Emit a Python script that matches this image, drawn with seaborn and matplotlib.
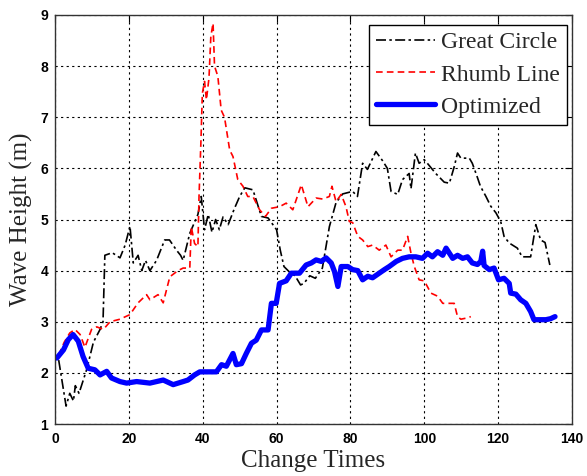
import matplotlib
matplotlib.use("Agg")
import matplotlib.pyplot as plt
import seaborn as sns
import pandas as pd

# ---------------- data ----------------
gc_x = [1, 3, 4, 5, 5.5, 6.5, 8.6, 10.4, 12.2, 13, 13.5, 15.5, 17.6, 19, 20.3, 21.2, 22.5, 23.5, 24.5, 25.7,
        27.5, 29.7, 31, 32.9, 34, 34.7, 36.5, 38.7, 39.6, 40.5, 41.5, 42.5, 43.5, 44.5, 45.5, 46.9, 48.5, 50,
        51.4, 53.6, 55.9, 57.7, 60, 61, 62, 63.8, 65, 66.5, 67.4, 69, 70.5, 72.4, 74.3, 76.1, 77.9, 80.6,
        81.9, 83.3, 84.6, 86.9, 88.7, 90, 91, 92.8, 94.1, 95.9, 96.4, 97.6, 98.6, 100, 101.4, 103.1, 105.4,
        106.8, 108.1, 109, 109.9, 112.2, 113, 114.3, 115.2, 116.7, 118, 119.4, 120.7, 121.6, 123, 125.2,
        126.5, 128.8, 130.2, 131.5, 132.7, 134]
gc_y = [2.25, 1.35, 1.6, 1.45, 1.75, 1.6, 2.07, 2.6, 2.85, 3.0, 4.3, 4.35, 4.25, 4.5, 4.87, 4.15, 4.3, 4.0, 4.2, 4.0,
        4.2, 4.6, 4.6, 4.4, 4.3, 4.2, 4.73, 5.1, 5.45, 4.8, 5.1, 4.75, 5.0, 4.8, 5.05, 4.9, 5.2, 5.45,
        5.62, 5.58, 5.06, 5.03, 4.8, 4.4, 4.08, 3.95, 3.9, 3.72, 3.75, 3.9, 3.85, 4.05, 4.86, 5.33, 5.5, 5.55,
        5.45, 6.1, 5.98, 6.33, 6.15, 6.0, 5.55, 5.49, 5.78, 5.9, 5.6, 6.3, 6.1, 6.17, 6.05, 5.9, 5.73,
        5.71, 6.03, 6.3, 6.2, 6.2, 6.1, 5.84, 5.65, 5.45, 5.26, 5.13, 4.96, 4.67, 4.54, 4.44,
        4.27, 4.27, 4.9, 4.6, 4.55, 4.11]

rl_x = [1, 2.5, 4, 5.4, 6.8, 8.1, 9.9, 11.3, 13.1, 14.9, 17.6, 20.3, 22.5, 24.8, 25.7, 27.9, 29.3, 31.1, 33.3,
        34.7, 36.5, 36.9, 37.8, 38.7, 39, 39.5, 39.9, 40.5, 41, 41.7, 42.2, 42.8, 43.2, 44.1, 45, 45.9, 47.3,
        48.2, 49.5, 50.9, 52.2, 53.6, 55.4, 57, 58.6, 60.8, 62.6, 64.4, 66.7, 68.5, 69.8, 70.7, 72.5, 74.3,
        75, 76.1, 77.5, 78.8, 79.7, 80.6, 82, 83.3, 84.7, 86, 87.8, 89.6, 91, 92.8, 94.1, 95.5, 96.4, 97.3,
        98.6, 100, 101.8, 103.6, 105, 106.8, 108.1, 109, 109.9, 111.3, 112.6]
rl_y = [2.35, 2.6, 2.78, 2.85, 2.75, 2.5, 2.85, 2.9, 2.85, 3.0, 3.05, 3.14, 3.37, 3.53, 3.43, 3.53, 3.37, 3.88, 4.0,
        4.05, 4.05, 4.86, 4.53, 4.47, 5.45, 6.49, 7.47, 7.7, 7.34, 7.77, 8.58, 8.84, 8.0, 7.8, 7.14, 7.0, 6.36,
        6.23, 5.78, 5.65, 5.45, 5.45, 5.19, 5.06, 5.22, 5.25, 5.32, 5.19, 5.68, 5.25, 5.35, 5.42, 5.4, 5.45,
        5.65, 5.35, 5.49, 5.25, 4.96, 4.94, 4.67, 4.6, 4.47, 4.5, 4.4, 4.5, 4.27, 4.4, 4.4, 4.67, 4.34, 4.08,
        3.82, 3.8, 3.56, 3.5, 3.36, 3.36, 3.36, 3.1, 3.05, 3.07, 3.1]

op_x = [0.5, 2.3, 3.6, 4.9, 6.3, 7.6, 9, 10.8, 12.2, 14, 15.3, 17.6, 19.4, 22.1, 25.7, 29.3, 32, 34.7, 36, 37.8,
        39.2, 41, 43.7, 45.1, 46.4, 48.2, 49.1, 50.5, 51.8, 53.2, 54.5, 55.9, 57.7, 58.6, 59.9, 60.8, 62.6,
        64, 66.2, 68, 69.4, 70.7, 72.1, 73.4, 74.8, 75.7, 76.6, 77.5, 79.3, 80.6, 82, 83.3, 84.7, 86, 87.8,
        89.2, 90.5, 92.4, 94.1, 95.9, 97.7, 99.5, 100.9, 102.2, 103.6, 105, 105.9, 107.7, 109, 110.4, 111.7,
        113, 114.4, 115.3, 115.8, 116.2, 117.6, 118.9, 120.1, 121.6, 123, 123.4, 124.8, 126.1, 127.5, 128.8,
        129.7, 131.1, 132.9, 134.2, 135.4]
op_y = [2.29, 2.45, 2.65, 2.75, 2.62, 2.32, 2.09, 2.06, 1.96, 2.03, 1.9, 1.83, 1.8, 1.83, 1.8, 1.86, 1.77, 1.83, 1.86, 1.96,
        2.02, 2.02, 2.02, 2.16, 2.13, 2.38, 2.16, 2.18, 2.38, 2.58, 2.64, 2.84, 2.84, 3.36, 3.36, 3.75, 3.8,
        3.95, 3.95, 4.11, 4.15, 4.21, 4.18, 4.25, 4.15, 3.98, 3.69, 4.08, 4.08, 4.02, 4.0, 3.82, 3.89, 3.86, 3.95,
        4.02, 4.08, 4.18, 4.24, 4.27, 4.27, 4.24, 4.34, 4.27, 4.37, 4.3, 4.44, 4.24, 4.3, 4.24, 4.27,
        4.15, 4.12, 4.18, 4.38, 4.1, 4.02, 4.05, 3.82, 3.85, 3.75, 3.56, 3.54, 3.43, 3.36, 3.2,
        3.04, 3.04, 3.04, 3.06, 3.1]

series_names = ["Great Circle", "Rhumb Line", "Optimized"]
x_ticks = [0, 20, 40, 60, 80, 100, 120, 140]
y_ticks = [1, 2, 3, 4, 5, 6, 7, 8, 9]

assert len(gc_x) == len(gc_y), (len(gc_x), len(gc_y))
assert len(rl_x) == len(rl_y), (len(rl_x), len(rl_y))
assert len(op_x) == len(op_y), (len(op_x), len(op_y))

# ---------------- plot ----------------
sns.set_style("white")
plt.rcParams["font.family"] = ["Liberation Sans", "DejaVu Sans"]

fig = plt.figure(figsize=(5.87, 4.76), dpi=100)
ax = fig.add_axes([55 / 587, 1 - 424 / 476, (572 - 55) / 587, (424 - 15) / 476])

sns.lineplot(x=gc_x, y=gc_y, ax=ax, color="black", linewidth=1.2, linestyle=(0, (6, 2, 1.5, 2)),
             label=series_names[0], estimator=None, sort=False)
sns.lineplot(x=rl_x, y=rl_y, ax=ax, color="#ff0000", linewidth=1.2, linestyle=(0, (4, 2.5)),
             label=series_names[1], estimator=None, sort=False)
sns.lineplot(x=op_x, y=op_y, ax=ax, color="#0000ff", linewidth=3.8, linestyle="-",
             label=series_names[2], estimator=None, sort=False)

ax.set_xlim(0, 140)
ax.set_ylim(1, 9)
ax.set_xticks(x_ticks)
ax.set_yticks(y_ticks)
ax.set_xticklabels([str(v) for v in x_ticks], fontsize=10, fontweight="bold")
ax.set_yticklabels([str(v) for v in y_ticks], fontsize=10, fontweight="bold")
ax.tick_params(direction="in", length=5, width=0.8, top=True, right=True, colors="black")
ax.tick_params(axis="x", pad=6)
ax.tick_params(axis="y", pad=5)

ax.grid(True, color="black", linestyle=(0, (2, 3)), linewidth=0.8)
for s in ax.spines.values():
    s.set_color("#333333")
    s.set_linewidth(1.0)

ax.set_xlabel("Change Times", fontsize=18, family="Liberation Serif", labelpad=3)
ax.set_ylabel("Wave Height (m)", fontsize=18, family="Liberation Serif", labelpad=5)

leg = ax.legend(loc="upper right", bbox_to_anchor=(0.990, 0.976), borderaxespad=0,
                prop={"family": "Liberation Serif", "size": 17}, frameon=True, fancybox=False,
                framealpha=1, edgecolor="black", handlelength=2.5, labelspacing=0.45,
                handletextpad=0.25, borderpad=0.3)
leg.get_frame().set_linewidth(1.0)

fig.savefig("out.png", dpi=100)
